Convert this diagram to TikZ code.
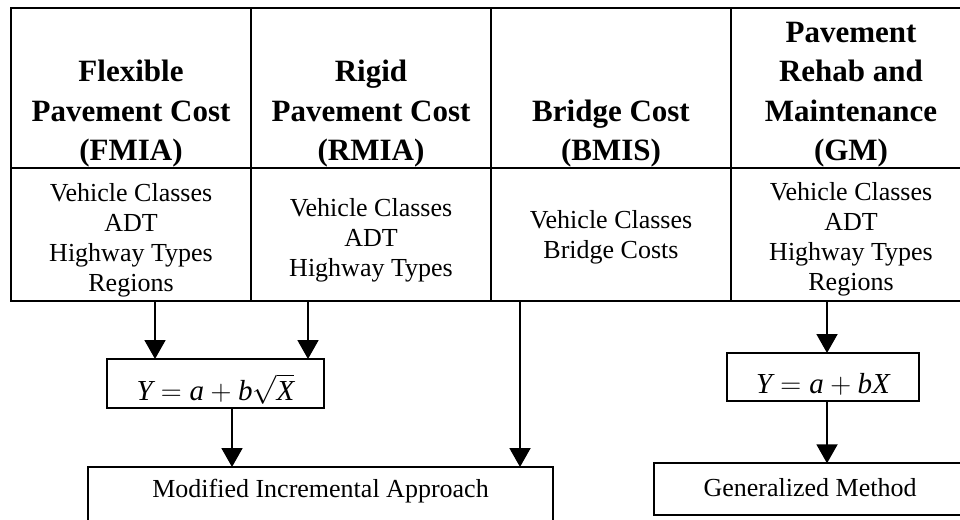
\documentclass[tikz,border=0pt]{standalone}
\usepackage{fix-cm}
\usepackage{fontspec}
\setmainfont{Liberation Serif}
\usetikzlibrary{arrows.meta}
\newcommand{\celltop}[1]{\begin{tabular}[t]{@{}c@{}}#1\end{tabular}}
\newcommand{\cellbot}[1]{\begin{tabular}[b]{@{}c@{}}#1\end{tabular}}
\tikzset{
  cellbox/.style={draw, line width=2pt, minimum width=240pt, inner sep=0pt, outer sep=0pt},
  hdrtext/.style={font=\fontsize{31}{39.5}\selectfont\bfseries, inner sep=0pt, anchor=base},
  bodytext/.style={font=\fontsize{26}{30}\selectfont, inner sep=0pt, anchor=base},
  eqbox/.style={draw, line width=1.9pt, inner sep=0pt, outer sep=0pt, anchor=base,
    font=\fontsize{29}{34}\selectfont},
  resbox/.style={draw, line width=1.9pt, inner sep=0pt, outer sep=0pt, anchor=base,
    font=\fontsize{26}{30}\selectfont},
  arr/.style={line width=1.9pt, -{Triangle[length=19pt,width=21pt]}}
}
\begin{document}
\begin{tikzpicture}[x=1pt,y=-1pt]
\useasboundingbox (0,0) rectangle (960,519);
\begin{scope}
\clip (0,0) rectangle (960,519);
% table cells
\node[cellbox, minimum height=160pt] (h1) at (131,88) {};
\node[cellbox, minimum height=160pt] (h2) at (371,88) {};
\node[cellbox, minimum height=160pt] (h3) at (611,88) {};
\node[cellbox, minimum height=160pt] (h4) at (851,88) {};
\node[cellbox, minimum height=133pt] (b1) at (131,234.5) {};
\node[cellbox, minimum height=133pt] (b2) at (371,234.5) {};
\node[cellbox, minimum height=133pt] (b3) at (611,234.5) {};
\node[cellbox, minimum height=133pt] (b4) at (851,234.5) {};
% header texts
\node[hdrtext] (t1) at (131,160.5) {\cellbot{Flexible\\Pavement Cost\\(FMIA)}};
\node[hdrtext] (t2) at (371,160.5) {\cellbot{Rigid\\Pavement Cost\\(RMIA)}};
\node[hdrtext] (t3) at (611,160.5) {\cellbot{Bridge Cost\\(BMIS)}};
\node[hdrtext] (t4) at (851,160.5) {\cellbot{Pavement\\Rehab and\\Maintenance\\(GM)}};
% body texts
\node[bodytext] (u1) at (131,201) {\celltop{Vehicle Classes\\ADT\\Highway Types\\Regions}};
\node[bodytext] (u2) at (371,216.5) {\celltop{Vehicle Classes\\ADT\\Highway Types}};
\node[bodytext] (u3) at (611,228.5) {\celltop{Vehicle Classes\\Bridge Costs}};
\node[bodytext] (u4) at (851,200) {\celltop{Vehicle Classes\\ADT\\Highway Types\\Regions}};
% equation boxes
\node[eqbox, minimum width=217pt, text height=41pt, text depth=8pt] (e1) at (215.5,400)
  {$\textit{Y} = \textit{a} + \textit{b}\sqrt{\textit{X}}$};
\node[eqbox, minimum width=192pt, text height=40.3pt, text depth=7.7pt] (e2) at (823,393.3)
  {$\textit{Y} = \textit{a} + \textit{bX}$};
% result boxes
\node[resbox, minimum width=465pt, text height=30pt, text depth=40pt] (mia) at (320.5,497)
  {Modified Incremental Approach};
\node[resbox, minimum width=312pt, text height=33.4pt, text depth=18.3pt] (gm) at (810,496.7)
  {Generalized Method};
% connectors
\coordinate (s1) at (155,0);
\coordinate (s2) at (308,0);
\coordinate (s3) at (232,0);
\coordinate (s4) at (520,0);
\coordinate (s5) at (827,0);
\draw[arr] (s1 |- b1.south) -- (s1 |- e1.north);
\draw[arr] (s2 |- b2.south) -- (s2 |- e1.north);
\draw[arr] (s3 |- e1.south) -- (s3 |- mia.north);
\draw[arr] (s4 |- b3.south) -- (s4 |- mia.north);
\draw[arr] (s5 |- b4.south) -- (s5 |- e2.north);
\draw[arr] (s5 |- e2.south) -- (s5 |- gm.north);
\end{scope}
\end{tikzpicture}
\end{document}
